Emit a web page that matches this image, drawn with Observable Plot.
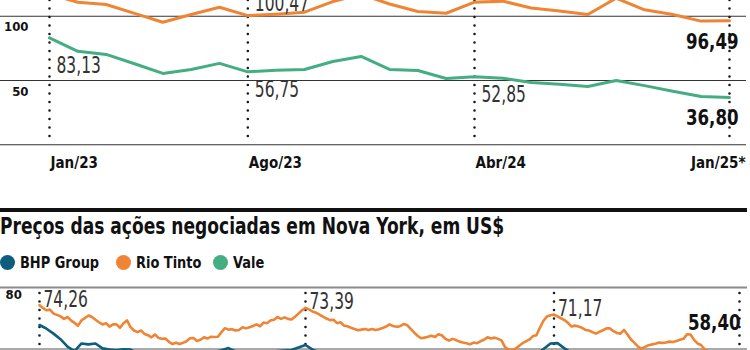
<!DOCTYPE html>
<html>
<head>
<meta charset="utf-8">
<script src="https://cdn.jsdelivr.net/npm/d3@7"></script>
<script src="https://cdn.jsdelivr.net/npm/@observablehq/plot@0.6"></script>
<style>
  html, body { margin: 0; padding: 0; background: #fff; }
  body { width: 750px; height: 350px; overflow: hidden; position: relative;
         font-family: 'Liberation Sans Narrow', 'DejaVu Sans Condensed', 'Liberation Sans', sans-serif; }
  #chartTop { position: absolute; left: 0; top: 0; }
  #sep { position: absolute; left: 0; top: 208px; width: 747px; height: 4px; background: #111; }
  #title { position: absolute; left: 0; top: 215px; font-size: 23px; line-height: 23px; font-weight: bold; color: #111;
           white-space: nowrap; transform: scaleX(0.825); transform-origin: 0 50%; }
  .leg { position: absolute; top: 254px; height: 16px; display: flex; align-items: center; font-size: 16px; font-weight: bold; color: #111; white-space: nowrap; }
  .leg i { display: inline-block; width: 15px; height: 15px; border-radius: 50%; margin-right: 5px; flex: none; }
  .leg span { display: inline-block; transform: scaleX(0.9); transform-origin: 0 50%; }
  #chartBottom { position: absolute; left: 0; top: 270px; }
</style>
</head>
<body>
<div id="chartTop"></div>
<div id="sep"></div>
<div id="title"></div>
<div id="legend"></div>
<div id="chartBottom"></div>
<script>
// ---------- DATA ----------
// Top chart: monthly index values, Jan/23 .. Jan/25 (25 months)
const topMonths = d3.range(25);
const rioTop = [117, 110.9, 109.1, 102.2, 95.3, 101.3, 107, 100.47, 101.6, 103.1, 111.4, 117,
                109.5, 103.7, 102.3, 110.9, 111.7, 106.4, 104, 101.3, 114, 105, 101.3, 96.2, 96.49];
const valeTop = [83.13, 72.7, 70.3, 63, 55.5, 58.6, 63.3, 56.75, 58, 58.6, 64.8, 68.7,
                 58.6, 57.8, 51.6, 52.85, 51.8, 48.5, 47, 45.3, 50, 46, 41.6, 37.5, 36.8];
const topGrid = [0, 50, 100];
const topYLabels = [100, 50];
const topTickIdx = [0, 7, 15, 24];
const topTickLabels = ["Jan/23", "Ago/23", "Abr/24", "Jan/25*"];

// Bottom chart: share prices in New York (US$), Jan/23 .. Jan/25
const rioNY = [74.26, 73.3, 72.6, 72.8, 71.5, 71.1, 70.6, 69.8, 70.4, 69.3, 68.5, 67.6, 69.3, 70.1, 70.9, 70.4, 69.5, 68.7, 68.0, 68.4,
  67.3, 68.0, 68.0, 66.9, 68.4, 69.3, 67.1, 66.0, 65.5, 66.0, 64.9, 64.5, 63.8, 64.7, 63.6, 63.3, 63.4, 62.3, 61.6, 62.0,
  61.6, 62.0, 62.5, 63.5, 63.6, 62.6, 63.0, 63.8, 63.4, 64.0, 63.9, 64.0, 65.5, 66.8, 66.3, 66.4, 66.0, 66.2, 67.1, 66.7,
  67.1, 67.5, 68.0, 67.4, 68.6, 68.4, 69.3, 69.5, 70.4, 69.8, 70.3, 69.8, 69.6, 70.5, 71.5, 72.6, 73.39, 72.9, 72.2, 71.8,
  71.2, 70.5, 69.9, 69.4, 69.5, 68.4, 68.7, 67.6, 67.4, 66.9, 66.5, 66.1, 66.3, 66.5, 66.2, 66.5, 66.2, 66.4, 66.8, 67.3,
  68.0, 67.5, 67.2, 67.4, 68.1, 67.8, 66.6, 65.4, 64.3, 63.5, 63.7, 64.0, 64.3, 63.9, 64.8, 64.4, 63.3, 62.7, 63.3, 62.9,
  62.4, 62.1, 61.9, 61.5, 62.1, 61.9, 62.5, 63.0, 63.8, 63.4, 63.7, 63.3, 62.8, 60.6, 59.8, 59.6, 60.1, 61.0, 61.9, 62.5,
  63.1, 64.2, 64.5, 67.0, 69.2, 70.6, 71.0, 71.17, 70.6, 70.0, 69.4, 68.5, 67.3, 67.6, 67.3, 66.9, 66.2, 66.0, 65.5, 65.0,
  65.6, 66.1, 66.7, 66.7, 65.8, 65.2, 65.0, 66.2, 64.7, 63.1, 62.0, 60.8, 60.1, 60.7, 61.2, 61.5, 61.7, 62.1, 62.0, 62.1,
  62.4, 62.3, 62.6, 63.0, 63.3, 64.8, 64.7, 63.0, 61.8, 61.3, 60.0, 59.2, 58.9, 58.6, 58.8, 58.5, 58.3, 58.6, 58.5, 58.3, 58.40];
// BHP sampled every 2 steps of the Rio series
const bhpNY = [67.8, 66.6, 65.0, 63.2, 60.8, 59.3, 61.8, 61.5, 61.8, 60.2, 59.8, 59.6, 59.9, 59.8, 58.5, 58.0, 57.6, 57.2, 57.0, 56.8,
  57.0, 57.3, 57.5, 57.8, 58.3, 59.0, 59.6, 60.3, 59.2, 58.5, 58.3, 58.6, 58.9, 59.1, 59.3, 59.5, 59.7, 60.5, 61.3, 59.8,
  58.9, 58.3, 57.8, 57.2, 56.8, 56.3, 56.0, 55.7, 55.5, 55.6, 56.0, 56.4, 56.8, 56.5, 55.8, 55.2, 55.0, 55.3, 55.0, 54.6,
  54.2, 54.0, 54.1, 54.4, 54.8, 55.1, 55.0, 54.2, 54.6, 55.5, 56.6, 58.0, 60.0, 61.8, 61.9, 60.2, 58.7, 57.9, 57.3, 56.7,
  56.5, 56.9, 56.4, 55.9, 55.8, 54.5, 53.5, 53.2, 53.0, 52.8, 52.6, 52.4, 52.5, 52.7, 51.9, 51.2, 50.6, 50.2, 49.9, 49.6, 49.7];
const bottomGrid = [60, 80];
const bottomYLabels = [80];
const bottomTickIdx = [0, 76, 147, 200];
const series = ["BHP Group", "Rio Tinto", "Vale"];
const colors = ["#0d5d7d", "#ee8434", "#44ad82"];

// ---------- STYLE ----------
const FONT = "'Liberation Sans Narrow', 'DejaVu Sans Condensed', 'Liberation Sans', sans-serif";
const fmt = v => v.toFixed(2).replace(".", ",");
const [BHP, ORANGE, GREEN] = colors;
const dots = {stroke: "#1a1a1a", strokeWidth: 2.6, strokeDasharray: "0,8.5", strokeLinecap: "round"};
const LIGHT = {fontSize: 23, fontWeight: 300, fill: "#333", lineAnchor: "bottom"};
const BOLD = {fontSize: 21, fontWeight: "bold", fill: "#111", lineAnchor: "bottom"};

// horizontally condense the big value labels (narrow typeface look)
function squeeze(svg) {
  svg.querySelectorAll("text").forEach(t => {
    const cs = getComputedStyle(t);
    const fs = parseFloat(cs.fontSize);
    if (fs < 20) return;
    const s = +cs.fontWeight >= 600 ? 0.88 : 0.75;
    let tr = t.getAttribute("transform");
    if (!tr) {
      const x = +(t.getAttribute("x") || 0), y = +(t.getAttribute("y") || 0);
      t.removeAttribute("x"); t.removeAttribute("y");
      tr = `translate(${x},${y})`;
    }
    t.setAttribute("transform", tr + ` scale(${s},1)`);
  });
}

// ---------- TOP CHART ----------
const topPlot = Plot.plot({
  width: 750, height: 175,
  marginLeft: 0, marginRight: 4, marginTop: 0, marginBottom: 30.7,
  x: {domain: [0, 24], range: [49, 729], axis: null},
  y: {domain: [0, 100], range: [144.3, 15.7], axis: null},
  style: {fontFamily: FONT, background: "transparent", overflow: "visible"},
  marks: [
    Plot.ruleY(topGrid, {stroke: "#333", strokeWidth: 1.1}),
    Plot.ruleX(topTickIdx, dots),
    Plot.line(topMonths, {x: d => d, y: d => rioTop[d], stroke: ORANGE, strokeWidth: 3, clip: true}),
    Plot.line(topMonths, {x: d => d, y: d => valeTop[d], stroke: GREEN, strokeWidth: 3, clip: true}),
    Plot.text(topYLabels, {y: d => d, frameAnchor: "left", dx: 28, dy: 15, textAnchor: "end", lineAnchor: "bottom",
      text: d => String(d), fontSize: 13, fontWeight: "bold", fill: "#111"}),
    Plot.text(topTickIdx.slice(0, 3), {x: d => d, frameAnchor: "bottom", dy: 22.7, dx: 1, textAnchor: "start", lineAnchor: "bottom",
      text: (d, i) => topTickLabels[i], fontSize: 15, fontWeight: "bold", fill: "#111"}),
    Plot.text(topTickIdx.slice(3), {x: d => d, frameAnchor: "bottom", dy: 22.7, dx: 16, textAnchor: "end", lineAnchor: "bottom",
      text: () => topTickLabels[3], fontSize: 15, fontWeight: "bold", fill: "#111"}),
    Plot.text([0], {x: d => d, y: d => valeTop[d], text: d => fmt(valeTop[d]), dx: 7, dy: 35, textAnchor: "start", ...LIGHT}),
    Plot.text([7, 15], {x: d => d, y: d => valeTop[d], text: d => fmt(valeTop[d]), dx: 7, dy: 25.5, textAnchor: "start", ...LIGHT}),
    Plot.text([7], {x: d => d, y: d => rioTop[d], text: d => fmt(rioTop[d]), dx: 7, dy: -5, textAnchor: "start", ...LIGHT}),
    Plot.text([24], {x: d => d, y: d => rioTop[d], text: d => fmt(rioTop[d]), dx: 9, dy: 28, textAnchor: "end", ...BOLD}),
    Plot.text([24], {x: d => d, y: d => valeTop[d], text: d => fmt(valeTop[d]), dx: 9, dy: 28, textAnchor: "end", ...BOLD})
  ]
});
document.getElementById("chartTop").append(topPlot);
squeeze(topPlot);

// ---------- TITLE + LEGEND ----------
document.getElementById("title").textContent = "Preços das ações negociadas em Nova York, em US$";
const legLefts = [0, 116, 213];
const legend = document.getElementById("legend");
series.forEach((s, i) => {
  const item = document.createElement("div");
  item.className = "leg";
  item.style.left = legLefts[i] + "px";
  const dot = document.createElement("i");
  dot.style.background = colors[i];
  const label = document.createElement("span");
  label.textContent = s;
  item.append(dot, label);
  legend.append(item);
});

// ---------- BOTTOM CHART ----------
const rioIdx = d3.range(rioNY.length);
const bhpIdx = d3.range(bhpNY.length);
const bottomPlot = Plot.plot({
  width: 750, height: 100,
  marginLeft: 0, marginRight: 3, marginTop: 0, marginBottom: 0,
  x: {domain: [0, 200], range: [39, 739], axis: null},
  y: {domain: [60, 80], range: [78.5, 17], axis: null},
  style: {fontFamily: FONT, background: "transparent", overflow: "visible"},
  marks: [
    Plot.ruleY(bottomGrid, {stroke: d => d === 80 ? "#8a8a8a" : "#555", strokeWidth: d => d === 80 ? 2 : 1.2}),
    Plot.ruleX(bottomTickIdx, {...dots, insetTop: 23}),
    Plot.line(bhpIdx, {x: d => d * 2, y: d => bhpNY[d], stroke: BHP, strokeWidth: 2.6, clip: true}),
    Plot.line(rioIdx, {x: d => d, y: d => rioNY[d], stroke: ORANGE, strokeWidth: 2.6, clip: true}),
    Plot.text(bottomYLabels, {y: d => d, frameAnchor: "left", dx: 5, dy: 11, textAnchor: "start", lineAnchor: "bottom",
      text: d => String(d), fontSize: 13, fontWeight: "bold", fill: "#111"}),
    Plot.text(bottomTickIdx.slice(0, 3), {x: d => d, y: d => rioNY[d], text: d => fmt(rioNY[d]), dx: 4, dy: 1.5, textAnchor: "start", ...LIGHT}),
    Plot.text(bottomTickIdx.slice(3), {x: d => d, y: d => rioNY[d], text: d => fmt(rioNY[d]), dx: 1, dy: -23.7, textAnchor: "end", ...BOLD})
  ]
});
document.getElementById("chartBottom").append(bottomPlot);
squeeze(bottomPlot);
</script>
</body>
</html>
